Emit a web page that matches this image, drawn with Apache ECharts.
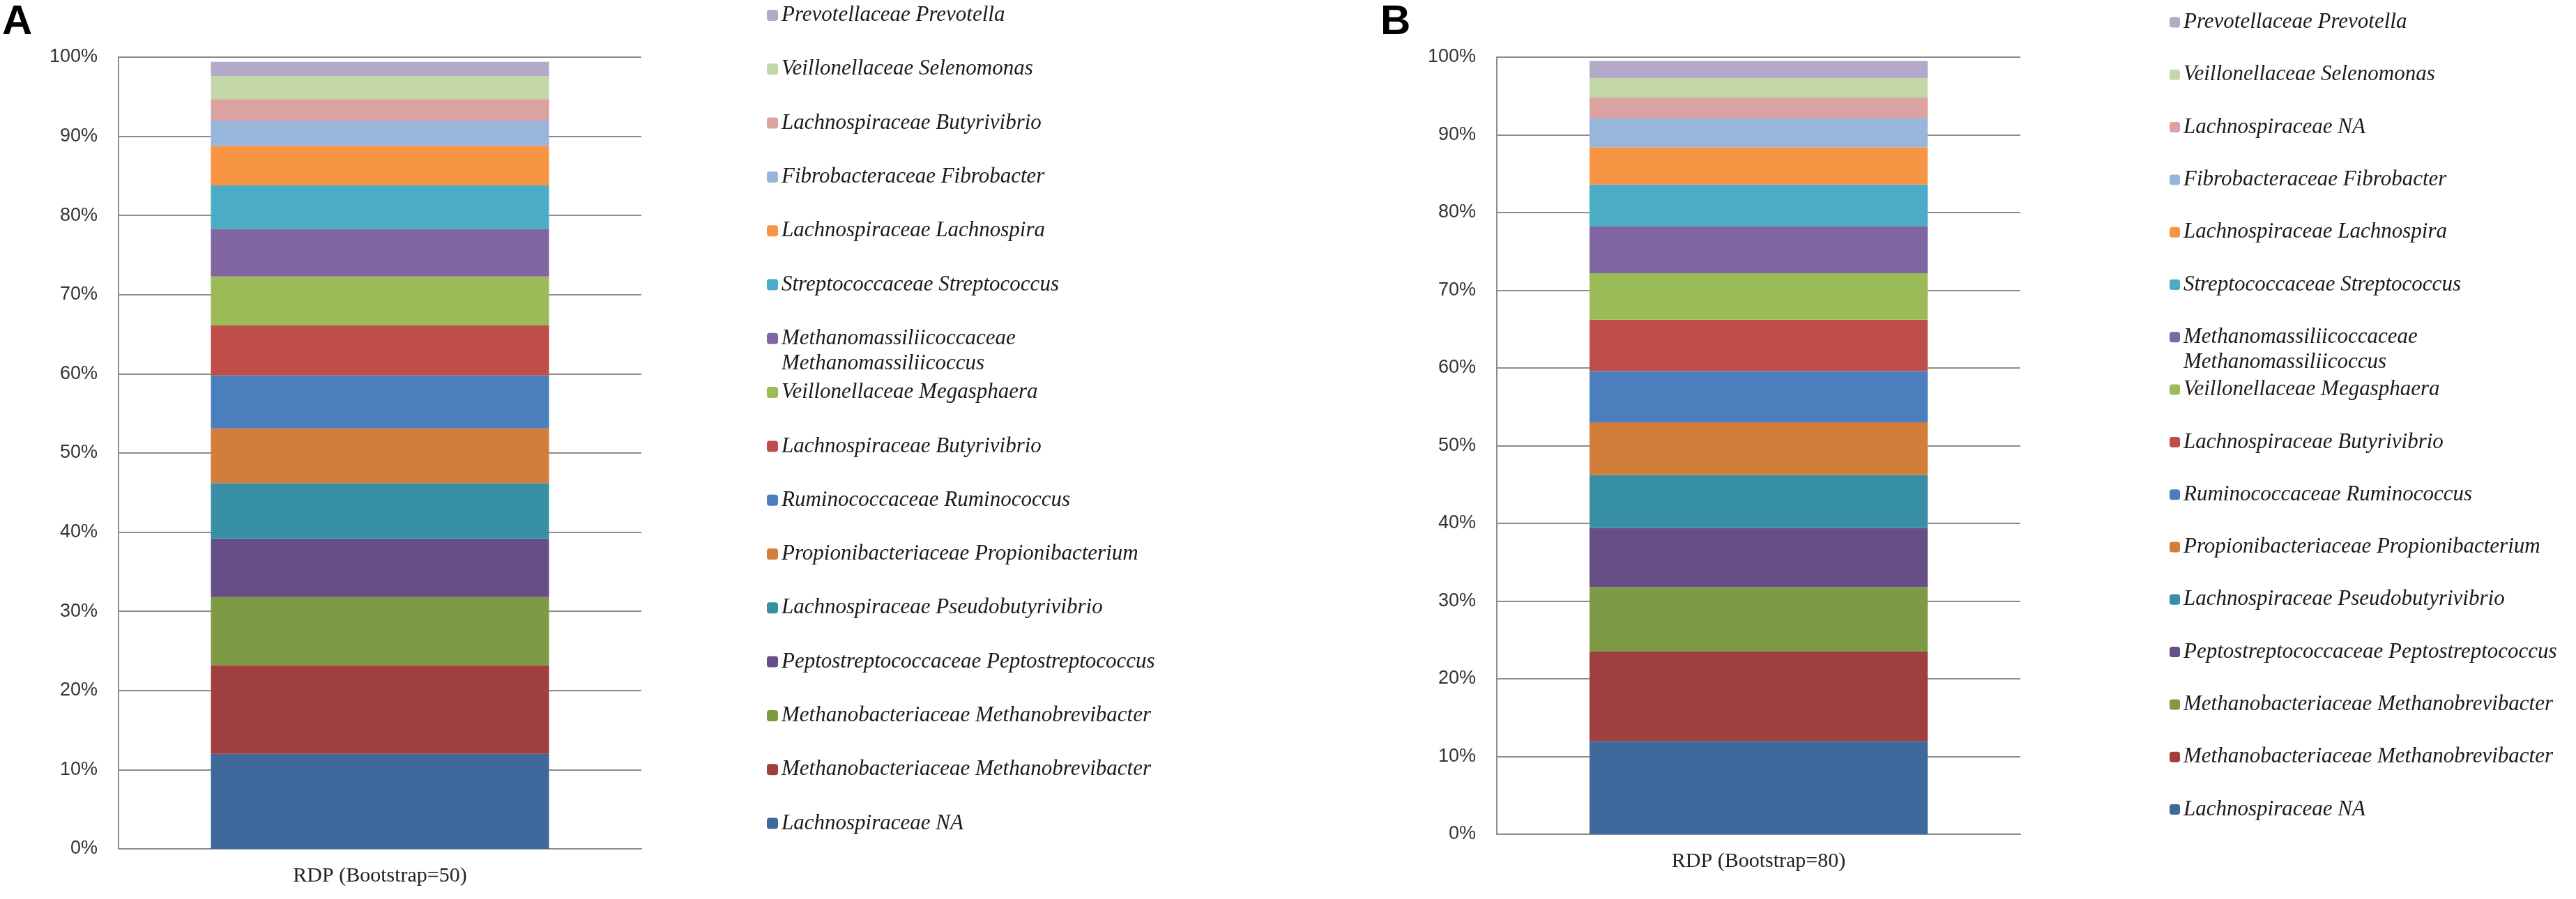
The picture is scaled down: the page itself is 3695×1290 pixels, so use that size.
<!DOCTYPE html>
<html>
<head>
<meta charset="utf-8">
<script src="https://cdn.jsdelivr.net/npm/echarts@6/dist/echarts.min.js"></script>
<style>
    html, body {margin: 0; padding: 0; background: #fff;}
    #chart {width: 3695px; height: 1290px;}
</style>
</head>
<body>
<div id="chart"></div>
<script>
// stacked from the bottom of the bar to the top
var taxaA = [
    'Lachnospiraceae NA',
    'Methanobacteriaceae Methanobrevibacter',
    'Methanobacteriaceae Methanobrevibacter',
    'Peptostreptococcaceae Peptostreptococcus',
    'Lachnospiraceae Pseudobutyrivibrio',
    'Propionibacteriaceae Propionibacterium',
    'Ruminococcaceae Ruminococcus',
    'Lachnospiraceae Butyrivibrio',
    'Veillonellaceae Megasphaera',
    'Methanomassiliicoccaceae Methanomassiliicoccus',
    'Streptococcaceae Streptococcus',
    'Lachnospiraceae Lachnospira',
    'Fibrobacteraceae Fibrobacter',
    'Lachnospiraceae Butyrivibrio',
    'Veillonellaceae Selenomonas',
    'Prevotellaceae Prevotella'
];
var taxaB = [
    'Lachnospiraceae NA',
    'Methanobacteriaceae Methanobrevibacter',
    'Methanobacteriaceae Methanobrevibacter',
    'Peptostreptococcaceae Peptostreptococcus',
    'Lachnospiraceae Pseudobutyrivibrio',
    'Propionibacteriaceae Propionibacterium',
    'Ruminococcaceae Ruminococcus',
    'Lachnospiraceae Butyrivibrio',
    'Veillonellaceae Megasphaera',
    'Methanomassiliicoccaceae Methanomassiliicoccus',
    'Streptococcaceae Streptococcus',
    'Lachnospiraceae Lachnospira',
    'Fibrobacteraceae Fibrobacter',
    'Lachnospiraceae NA',
    'Veillonellaceae Selenomonas',
    'Prevotellaceae Prevotella'
];
var valuesA = [12.0, 11.2, 8.6, 7.4, 7.0, 6.9, 6.7, 6.3, 6.2, 6.0, 5.5, 5.0, 3.2, 2.7, 2.9, 1.8];
var valuesB = [12.0, 11.5, 8.3, 7.6, 6.8, 6.8, 6.6, 6.6, 6.0, 6.0, 5.4, 4.8, 3.7, 2.7, 2.5, 2.2];
var categoryA = ['RDP (Bootstrap=50)'];
var categoryB = ['RDP (Bootstrap=80)'];
var colors = ['#3F699D', '#9F3F3E', '#7F9A45', '#664F87', '#378FA5', '#D27D39', '#4A7EBD', '#BF4E4B',
    '#9BBB57', '#8065A3', '#4AACC6', '#F79544', '#98B5DC', '#DBA2A2', '#C4D7A9', '#B5A9CA'];

var myChart = echarts.init(document.getElementById('chart'));

// series names must be unique (some taxa repeat), the legend shows the real label
var labelOf = {};
function seriesFor(key, taxa, values, axisIndex) {
    return taxa.map(function (t, i) {
        // long name wraps; the blank first line keeps the square level with line one
        labelOf[key + i] = t.length > 42 ? '\n' + t.replace(' ', '\n') : t;
        return {
            name: key + i,
            type: 'bar',
            stack: key,
            xAxisIndex: axisIndex,
            yAxisIndex: axisIndex,
            barWidth: 485,
            data: [values[i]],
            itemStyle: {color: colors[i]},
            emphasis: {disabled: true}
        };
    });
}

function legendsFor(key, left, firstCenter, step, icon) {
    var base = {
        left: left,
        orient: 'vertical',
        padding: 0,
        itemWidth: icon,
        itemHeight: icon,
        itemGap: step - 36,
        selectedMode: false,
        formatter: function (name) { return labelOf[name]; },
        textStyle: {
            fontFamily: 'Liberation Serif',
            fontStyle: 'italic',
            fontSize: 31,
            lineHeight: 36,
            color: '#1a1a1a'
        }
    };
    function pick(from, to) {
        var out = [];
        for (var i = from; i >= to; i--) out.push(key + i);
        return out;
    }
    var l1 = echarts.util.merge({top: firstCenter - 18, data: pick(15, 10)}, base);
    var l2 = echarts.util.merge({top: firstCenter + 6 * step - 54, data: pick(9, 9)}, base);
    var l3 = echarts.util.merge({top: firstCenter + 7 * step - 18, data: pick(8, 0)}, base);
    return [l1, l2, l3];
}

function yAxis(gridIndex) {
    return {
        type: 'value',
        gridIndex: gridIndex,
        min: 0,
        max: 100,
        interval: 10,
        axisLabel: {formatter: '{value}%', fontFamily: 'Liberation Sans', fontSize: 27, color: '#333', margin: 30},
        axisLine: {show: true, lineStyle: {color: '#8c8c8c', width: 2}},
        axisTick: {show: false},
        splitLine: {lineStyle: {color: '#8c8c8c', width: 2}}
    };
}

function xAxis(gridIndex, data) {
    return {
        type: 'category',
        gridIndex: gridIndex,
        data: data,
        axisTick: {show: false},
        axisLine: {lineStyle: {color: '#8c8c8c', width: 2}},
        axisLabel: {fontFamily: 'Liberation Serif', fontSize: 30, color: '#222', margin: 24}
    };
}

var option = {
    animation: false,
    title: [
        {text: 'A', left: 3, top: 2, padding: 0,
            textStyle: {fontFamily: 'Liberation Sans', fontWeight: 'bold', fontSize: 60, color: '#000'}},
        {text: 'B', left: 1980, top: 2, padding: 0,
            textStyle: {fontFamily: 'Liberation Sans', fontWeight: 'bold', fontSize: 60, color: '#000'}}
    ],
    grid: [
        {left: 170, top: 82, width: 750, height: 1136},
        {left: 2147, top: 82, width: 751, height: 1115}
    ],
    xAxis: [xAxis(0, categoryA), xAxis(1, categoryB)],
    yAxis: [yAxis(0), yAxis(1)],
    legend: legendsFor('a', 1100, 22, 77.3, 16).concat(legendsFor('b', 3112, 32, 75.3, 15)),
    series: seriesFor('a', taxaA, valuesA, 0).concat(seriesFor('b', taxaB, valuesB, 1))
};
myChart.setOption(option);
</script>
</body>
</html>
